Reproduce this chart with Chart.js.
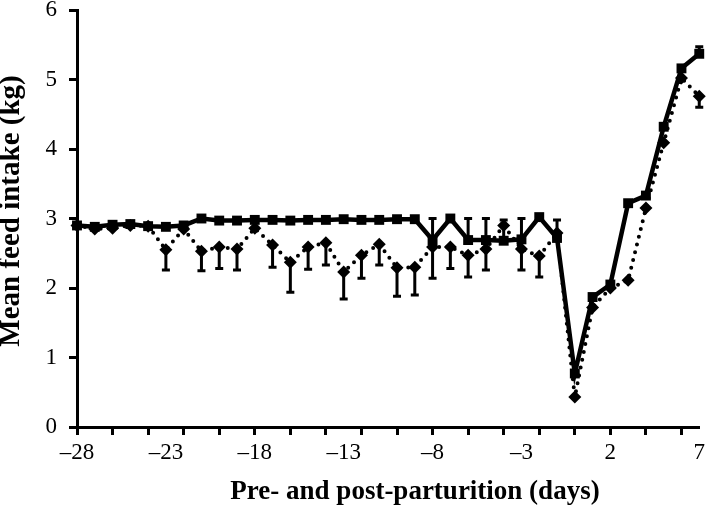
<!DOCTYPE html>
<html lang="en">
<head>
    <meta charset="UTF-8">
    <title>Mean feed intake</title>
</head>
<style>
    body {
        background-color: #ffffff;
        margin: 0;
        padding: 0;
    }
    .wrap {
        width: 709px;
        height: 510px;
    }
</style>
<script src="https://cdn.jsdelivr.net/npm/chart.js"></script>
<body>
    <div class="wrap">
        <canvas id="chart" width="709" height="510"></canvas>
    </div>

    <script>
        // days relative to parturition
        const days = [-28, -27, -26, -25, -24, -23, -22, -21, -20, -19, -18, -17, -16, -15, -14, -13, -12, -11,
                      -10, -9, -8, -7, -6, -5, -4, -3, -2, -1, 0, 1, 2, 3, 4, 5, 6, 7];
        // solid line, squares
        const solidIntake = [2.9, 2.88, 2.91, 2.92, 2.89, 2.88, 2.9, 3.0, 2.97, 2.97, 2.98, 2.98, 2.97, 2.98, 2.98, 2.99, 2.98, 2.98,
                             2.99, 2.99, 2.69, 3.0, 2.69, 2.69, 2.68, 2.7, 3.02, 2.72, 0.77, 1.87, 2.05, 3.22, 3.33, 4.32, 5.16, 5.37];
        const solidErrUp = [0, 0, 0, 0, 0, 0, 0, 0, 0, 0, 0, 0, 0, 0, 0, 0, 0, 0,
                            0, 0, 0.31, 0, 0.31, 0.31, 0.3, 0.3, 0, 0.26, 0, 0, 0, 0, 0, 0, 0, 0.1];
        // dotted line, diamonds
        const dottedIntake = [2.9, 2.85, 2.86, 2.9, 2.89, 2.55, 2.85, 2.53, 2.59, 2.56, 2.86, 2.62, 2.37, 2.59, 2.65, 2.23, 2.47, 2.63,
                              2.29, 2.3, 2.59, 2.59, 2.47, 2.56, 2.9, 2.56, 2.46, 2.79, 0.43, 1.72, 2.0, 2.11, 3.15, 4.09, 5.02, 4.76];
        const dottedErrDown = [0, 0, 0, 0, 0, 0.29, 0, 0.28, 0.31, 0.3, 0, 0.32, 0.43, 0.32, 0.32, 0.39, 0.33, 0.3,
                               0.41, 0.4, 0.45, 0.31, 0.31, 0.3, 0, 0.3, 0.3, 0, 0, 0, 0, 0, 0, 0, 0, 0.16];
        const xLabelDays = [-28, -23, -18, -13, -8, -3, 2, 7];
        const yTicks = [0, 1, 2, 3, 4, 5, 6];
        const xTitle = 'Pre- and post-parturition (days)';
        const yTitle = 'Mean feed intake (kg)';

        const serif = "'Liberation Serif', 'Times New Roman', serif";

        const errorBars = {
            id: 'errorBars',
            afterDatasetsDraw(chart) {
                const ctx = chart.ctx;
                const x = chart.scales.x;
                const y = chart.scales.y;
                ctx.save();
                ctx.strokeStyle = '#000';
                ctx.lineWidth = 3;
                const bar = (d, v, e) => {
                    if (!e) return;
                    const px = x.getPixelForValue(d);
                    const p0 = y.getPixelForValue(v);
                    const p1 = y.getPixelForValue(v + e);
                    ctx.beginPath();
                    ctx.moveTo(px, p0);
                    ctx.lineTo(px, p1);
                    ctx.moveTo(px - 4, p1);
                    ctx.lineTo(px + 4, p1);
                    ctx.stroke();
                };
                days.forEach((d, i) => {
                    bar(d, solidIntake[i], solidErrUp[i]);
                    bar(d, dottedIntake[i], -dottedErrDown[i]);
                });
                ctx.restore();
            }
        };

        // axis titles sit a bit off-centre in the original, so draw them by hand
        const axisTitles = {
            id: 'axisTitles',
            afterDraw(chart) {
                const ctx = chart.ctx;
                ctx.save();
                ctx.fillStyle = '#000';
                ctx.textAlign = 'center';
                ctx.textBaseline = 'middle';
                ctx.font = 'bold 27px ' + serif;
                ctx.fillText(xTitle, 415, 492);
                ctx.translate(12, 211);
                ctx.rotate(-Math.PI / 2);
                ctx.font = 'bold 29px ' + serif;
                ctx.fillText(yTitle, 0, 0);
                ctx.restore();
            }
        };

        const ctx = document.getElementById('chart').getContext('2d');
        const chart = new Chart(ctx, {
            type: 'line',
            data: {
                datasets: [{
                    label: 'dotted',
                    data: days.map((d, i) => ({x: d, y: dottedIntake[i]})),
                    borderColor: '#000',
                    backgroundColor: '#000',
                    borderWidth: 4,
                    borderDash: [0, 8],
                    borderCapStyle: 'round',
                    pointStyle: 'rectRot',
                    pointRadius: 6.5,
                    pointBorderWidth: 0,
                    tension: 0,
                    clip: false
                }, {
                    label: 'solid',
                    data: days.map((d, i) => ({x: d, y: solidIntake[i]})),
                    borderColor: '#000',
                    backgroundColor: '#000',
                    borderWidth: 4.5,
                    pointStyle: 'rect',
                    pointRadius: 7,
                    pointBorderWidth: 0,
                    tension: 0,
                    clip: false
                }]
            },
            options: {
                responsive: false,
                animation: false,
                layout: { padding: { left: 0, right: 7, top: 10, bottom: 0 } },
                plugins: {
                    legend: { display: false },
                    tooltip: { enabled: false }
                },
                scales: {
                    x: {
                        type: 'linear',
                        min: -28,
                        max: 7,
                        afterBuildTicks: (scale) => {
                            scale.ticks = days.map(d => ({value: d}));
                        },
                        afterFit: (scale) => { scale.height = 83; },
                        ticks: {
                            autoSkip: false,
                            maxRotation: 0,
                            padding: 4,
                            color: '#000',
                            font: { family: serif, size: 23 },
                            callback: (v) => xLabelDays.includes(v) ? (v < 0 ? '\u2013' + Math.abs(v) : String(v)) : ''
                        },
                        grid: {
                            drawOnChartArea: false,
                            tickLength: 8,
                            tickWidth: 3,
                            tickColor: (c) => (c.tick && (c.tick.value + 28) % 2 === 0) ? '#000' : 'rgba(0,0,0,0)'
                        },
                        border: { color: '#000', width: 3 }
                    },
                    y: {
                        min: 0,
                        max: 6,
                        afterBuildTicks: (scale) => {
                            scale.ticks = yTicks.map(v => ({value: v}));
                        },
                        afterFit: (scale) => {
                            scale.width = 77;
                            scale.paddingTop = 0;
                        },
                        ticks: {
                            padding: 12,
                            color: '#000',
                            font: { family: serif, size: 23 }
                        },
                        grid: {
                            drawOnChartArea: false,
                            tickLength: 8,
                            tickWidth: 3,
                            tickColor: '#000'
                        },
                        border: { color: '#000', width: 3 }
                    }
                }
            },
            plugins: [errorBars, axisTitles]
        });
    </script>
</body>
</html>
